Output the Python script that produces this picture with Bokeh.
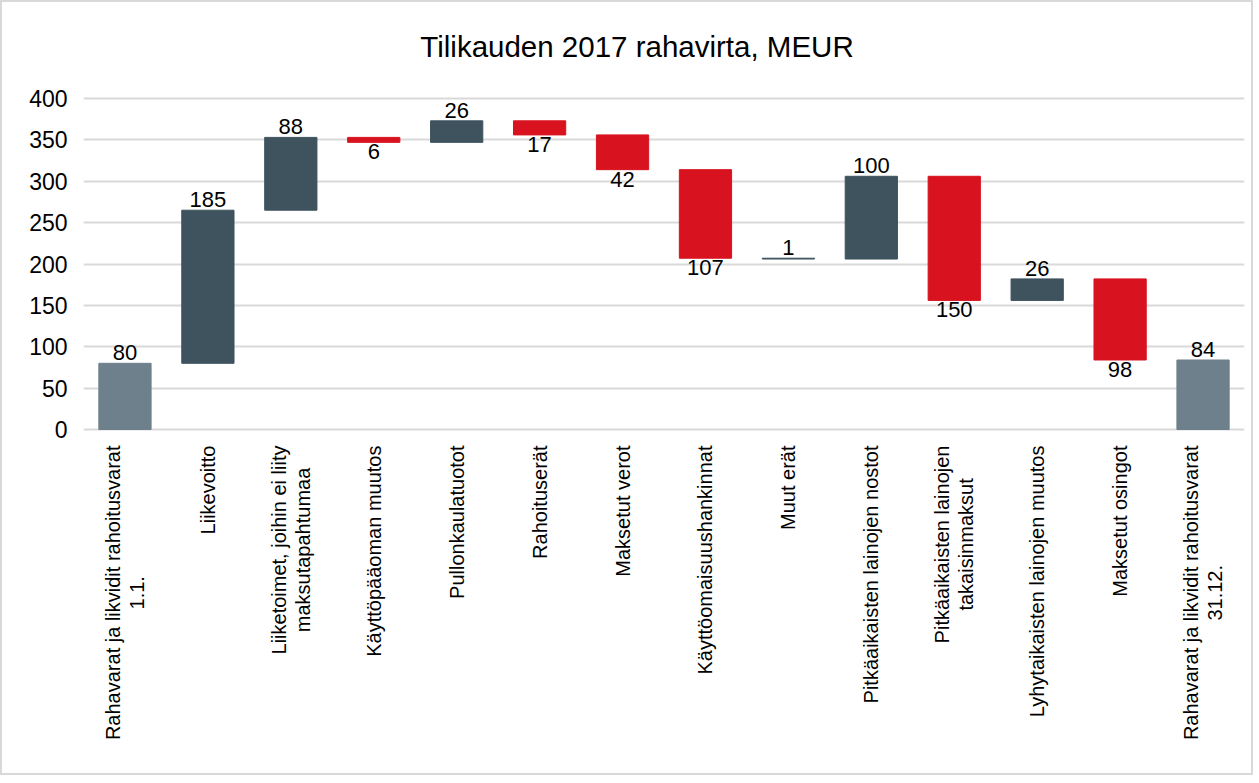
import math
from bokeh.plotting import figure
from bokeh.models import ColumnDataSource, FixedTicker, Range1d, FactorRange, LabelSet, Label
from bokeh.core.properties import value
from bokeh.embed import file_html
from bokeh.resources import INLINE

# ---- data ----
categories = [
    "Rahavarat ja likvidit rahoitusvarat\n1.1.",
    "Liikevoitto",
    "Liiketoimet, joihin ei liity\nmaksutapahtumaa",
    "Käyttöpääoman muutos",
    "Pullonkaulatuotot",
    "Rahoituserät",
    "Maksetut verot",
    "Käyttöomaisuushankinnat",
    "Muut erät",
    "Pitkäaikaisten lainojen nostot",
    "Pitkäaikaisten lainojen\ntakaisinmaksut",
    "Lyhytaikaisten lainojen muutos",
    "Maksetut osingot",
    "Rahavarat ja likvidit rahoitusvarat\n31.12.",
]
changes = [80, 185, 88, -6, 26, -17, -42, -107, -1, 100, -150, 26, -98, 84]
is_total = [True, False, False, False, False, False, False, False, False,
            False, False, False, False, True]
y_ticks = [0, 50, 100, 150, 200, 250, 300, 350, 400]
title_text = "Tilikauden 2017 rahavirta, MEUR"

# ---- layout / styles ----
W, H = 1253, 775
AXIS_TOP_PX = 96      # canvas row of the 400 gridline
AXIS_BOT_PX = 427     # canvas row of the 0 gridline
Y_MIN, Y_MAX = y_ticks[0], y_ticks[-1]
UPP = (Y_MAX - Y_MIN) / (AXIS_BOT_PX - AXIS_TOP_PX)   # data units per pixel

C_TOTAL = "#6d808b"
C_POS = "#3e535e"
C_NEG = "#d8131f"
FONT = "Liberation Sans"
CAT_PX = 20
STANDOFF = 16
LINE_GAP = 12

# Arial / Liberation Sans advance widths (per 1000 em)
_W = {"R": 722, "a": 556, "h": 556, "v": 500, "r": 333, "t": 278, "j": 222,
      "l": 222, "i": 222, "k": 500, "d": 556, "o": 556, "u": 556, "s": 500,
      "L": 556, "e": 556, "m": 833, ",": 278, "n": 556, "y": 500, "P": 667,
      "ä": 556, "ö": 556, " ": 278, ".": 278, "p": 556, "c": 500, "g": 556}


def text_px(s, size):
    return sum(_W.get(ch, 556) for ch in s) * size / 1000.0


bottoms, tops, colors, lab_txt = [], [], [], []
running = 0
for c, t in zip(changes, is_total):
    if t:
        b, tp = 0, c
        running = c
        col = C_TOTAL
    else:
        start, end = running, running + c
        b, tp = min(start, end), max(start, end)
        running = end
        col = C_POS if (c > 0 or abs(c) < 2) else C_NEG
    bottoms.append(b)
    tops.append(tp)
    colors.append(col)
    lab_txt.append(str(abs(c)))

src = ColumnDataSource(dict(x=categories, bottom=bottoms, top=tops, color=colors))

up_idx = [i for i, (c, t) in enumerate(zip(changes, is_total)) if t or c > 0 or abs(c) < 2]
dn_idx = [i for i in range(len(changes)) if i not in up_idx]
src_up = ColumnDataSource(dict(x=[categories[i] for i in up_idx],
                               y=[tops[i] for i in up_idx],
                               t=[lab_txt[i] for i in up_idx]))
src_dn = ColumnDataSource(dict(x=[categories[i] for i in dn_idx],
                               y=[bottoms[i] for i in dn_idx],
                               t=[lab_txt[i] for i in dn_idx]))

# category label lines
l1_x, l1_t, l1_dx = [], [], []
l2_x, l2_t, l2_dy = [], [], []
for cat in categories:
    parts = cat.split("\n")
    l1_x.append(cat)
    l1_t.append(parts[0])
    if len(parts) > 1:
        l1_dx.append(-LINE_GAP)
        l2_x.append(cat)
        l2_t.append(parts[1])
        l2_dy.append(-(STANDOFF + text_px(parts[0], CAT_PX) / 2.0))
    else:
        l1_dx.append(0)
src_l1 = ColumnDataSource(dict(x=l1_x, y=[0] * len(l1_x), t=l1_t, dx=l1_dx))
src_l2 = ColumnDataSource(dict(x=l2_x, y=[0] * len(l2_x), t=l2_t, dy=l2_dy))

y_start = Y_MIN - (H - AXIS_BOT_PX) * UPP
y_end = Y_MAX + AXIS_TOP_PX * UPP

p = figure(x_range=FactorRange(*categories), y_range=Range1d(y_start, y_end),
           width=W, height=H, output_backend="svg", toolbar_location=None,
           min_border_left=81, min_border_right=11, min_border_top=0,
           min_border_bottom=0)
p.styles = {"border": "2px solid #d9d9d9", "box-sizing": "border-box"}

p.vbar(x="x", bottom="bottom", top="top", width=0.63, source=src,
       fill_color="color", line_color="color", line_width=1)

p.add_layout(LabelSet(x="x", y="y", text="t", source=src_up, text_align="center",
                      text_baseline="alphabetic", y_offset=3, text_font=value(FONT),
                      text_font_size="22px", text_color="#000000"))
p.add_layout(LabelSet(x="x", y="y", text="t", source=src_dn, text_align="center",
                      text_baseline="top", y_offset=-2, text_font=value(FONT),
                      text_font_size="22px", text_color="#000000"))

# category labels (rotated, reading upwards, ending below the axis)
p.add_layout(LabelSet(x="x", y="y", text="t", source=src_l1, angle=math.pi / 2,
                      text_align="right", text_baseline="middle",
                      x_offset="dx", y_offset=-STANDOFF, text_font=value(FONT),
                      text_font_size=f"{CAT_PX}px", text_color="#000000"))
p.add_layout(LabelSet(x="x", y="y", text="t", source=src_l2, angle=math.pi / 2,
                      text_align="center", text_baseline="middle",
                      x_offset=LINE_GAP, y_offset="dy", text_font=value(FONT),
                      text_font_size=f"{CAT_PX}px", text_color="#000000"))

# title
p.add_layout(Label(x=len(categories) / 2.0, y=Y_MAX, text=title_text,
                   text_align="center", text_baseline="alphabetic",
                   x_offset=-27, y_offset=52, text_font=FONT,
                   text_font_size="29.5px", text_color="#000000"))

p.outline_line_color = None
p.background_fill_color = "white"
p.border_fill_color = "white"

p.xgrid.grid_line_color = None
p.ygrid.grid_line_color = "#d9d9d9"
p.ygrid.grid_line_width = 2
p.yaxis.ticker = FixedTicker(ticks=y_ticks)

p.yaxis.axis_line_color = None
p.yaxis.major_tick_line_color = None
p.yaxis.minor_tick_line_color = None
p.yaxis.major_tick_out = 0
p.yaxis.major_tick_in = 0
p.yaxis.major_label_standoff = 16
p.yaxis.major_label_text_font = FONT
p.yaxis.major_label_text_font_size = "23px"
p.yaxis.major_label_text_color = "#000000"

p.xaxis.visible = False

open("out.html", "w").write(file_html(p, INLINE))
